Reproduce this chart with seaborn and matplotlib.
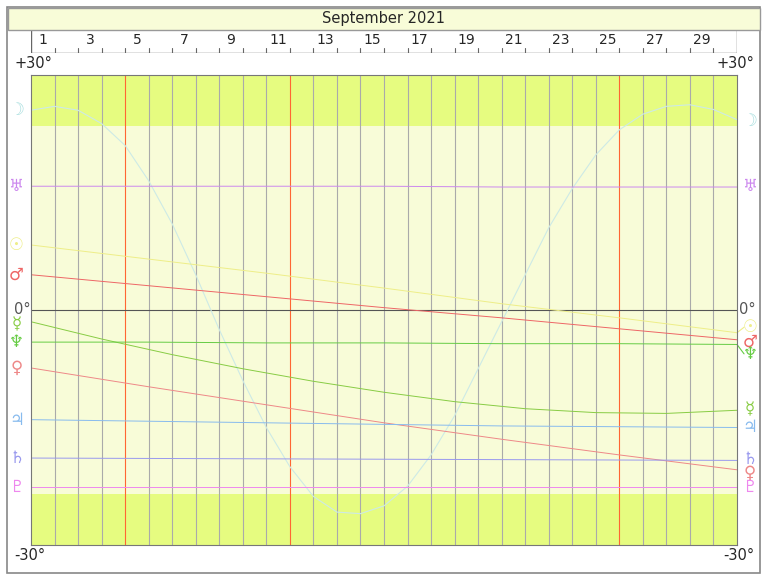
import numpy as np
import pandas as pd
import matplotlib
matplotlib.use("Agg")
import matplotlib.pyplot as plt
from matplotlib.patches import Rectangle
import seaborn as sns

sns.set_style("white")
plt.rcParams["font.family"] = ["DejaVu Sans"]

TITLE = "September 2021"
N_DAYS = 30
RED_DAYS = [4, 11, 25]          # day-start offsets of the red markers

t_moon = list(range(31))
moon = [25.5, 26.0, 25.5, 23.8, 21.0, 16.5, 11.0, 4.5, -2.5, -9.0, -15.0,
        -20.0, -23.8, -25.8, -26.0, -25.0, -22.5, -18.5, -13.5, -7.5, -1.5,
        4.5, 10.5, 15.5, 19.8, 23.0, 25.0, 26.0, 26.2, 25.6, 24.3]
t_slow = [0, 5, 10, 15, 20, 25, 30]
t_merc = [0, 3, 6, 9, 12, 15, 18, 21, 24, 27, 30]
mercury = [-1.5, -3.7, -5.7, -7.5, -9.1, -10.5, -11.7, -12.6, -13.1, -13.2, -12.8]
planets = {
    "Uranus":  ("\u2645", "#cc88ee", t_slow, [15.8, 15.8, 15.8, 15.8, 15.7, 15.7, 15.7]),
    "Sun":     ("\u2609", "#eeee88", t_slow, [8.3, 6.5, 4.7, 2.8, 0.8, -1.0, -2.9]),
    "Mars":    ("\u2642", "#ee6666", t_slow, [4.5, 3.1, 1.7, 0.3, -1.0, -2.4, -3.8]),
    "Mercury": ("\u263f", "#88cc44", t_merc, mercury),
    "Neptune": ("\u2646", "#66cc44", t_slow, [-4.1, -4.1, -4.2, -4.2, -4.3, -4.3, -4.4]),
    "Venus":   ("\u2640", "#ee8888", t_slow, [-7.4, -9.8, -12.1, -14.4, -16.5, -18.5, -20.4]),
    "Jupiter": ("\u2643", "#88bbee", t_slow, [-14.0, -14.2, -14.4, -14.6, -14.8, -14.9, -15.0]),
    "Saturn":  ("\u2644", "#9999ee", t_slow, [-18.9, -18.95, -19.0, -19.05, -19.1, -19.15, -19.2]),
    "Pluto":   ("\u2647", "#ee88ee", t_slow, [-22.6, -22.6, -22.6, -22.6, -22.6, -22.6, -22.6]),
}
# label positions (degrees) on the left and right edges
left_lab = {"Moon": 25.5, "Uranus": 15.8, "Sun": 8.3, "Mars": 4.5, "Mercury": -1.8,
            "Neptune": -4.1, "Venus": -7.4, "Jupiter": -14.0, "Saturn": -18.9, "Pluto": -22.6}
right_lab = {"Moon": 24.1, "Uranus": 15.8, "Sun": -2.2, "Mars": -4.0, "Neptune": -5.6,
             "Mercury": -12.7, "Jupiter": -15.0, "Saturn": -19.0, "Venus": -20.8, "Pluto": -22.6}

W, H = 768, 580
fig = plt.figure(figsize=(W / 100, H / 100), dpi=100)


def fx(px):
    return px / W


def fy(py):
    return 1 - py / H


# outer frame and title bar
fig.patches.append(Rectangle((fx(7), fy(573)), fx(753), 566 / H, transform=fig.transFigure,
                             fill=False, ec="#888888", lw=1.2))
fig.patches.append(Rectangle((fx(8), fy(30)), fx(752), 22 / H, transform=fig.transFigure,
                             fc="#f8fcd8", ec="#999999", lw=1))
fig.text(fx(384), fy(19), TITLE, ha="center", va="center", fontsize=10.5)

# header day scale
axt = fig.add_axes([fx(31), fy(53), fx(706), 23 / H])
axt.set_xlim(0, N_DAYS)
axt.set_ylim(0, 1)
axt.axis("off")
axt.plot([0, N_DAYS], [0, 0], color="#666666", lw=1)
axt.plot([0, 0], [0, 1], color="#666666", lw=1)
axt.plot([N_DAYS, N_DAYS], [0, 1], color="#666666", lw=1)
for d in range(1, N_DAYS):
    axt.plot([d, d], [0, 0.22], color="#666666", lw=0.8)
for d in range(1, N_DAYS + 1, 2):
    axt.text(d - 0.5, 0.55, str(d), ha="center", va="center", fontsize=10)

# main plot
ax = fig.add_axes([fx(31), fy(545), fx(706), 470 / H])
ax.set_facecolor("#f8fcd8")
ax.set_xlim(0, N_DAYS)
ax.set_ylim(-30, 30)
ax.axhspan(23.44, 30, color="#e6fc80", lw=0)
ax.axhspan(-30, -23.44, color="#e6fc80", lw=0)
for d in range(1, N_DAYS):
    ax.axvline(d, color="#ff6633" if d in RED_DAYS else "#aaaaaa", lw=0.8)
ax.axhline(0, color="#555555", lw=0.8)

sns.lineplot(x=t_moon, y=moon, ax=ax, color="#cdeae6", lw=0.8)
for name, (sym, col, ts, vals) in planets.items():
    sns.lineplot(x=ts, y=vals, ax=ax, color=col, lw=0.7)
ax.set_xticks([])
ax.set_yticks([])
for s in ax.spines.values():
    s.set_color("#777777")

# degree labels
fig.text(fx(14), fy(63), "+30\u00b0", ha="left", va="center", fontsize=10.5)
fig.text(fx(754), fy(63), "+30\u00b0", ha="right", va="center", fontsize=10.5)
fig.text(fx(14), fy(555), "-30\u00b0", ha="left", va="center", fontsize=10.5)
fig.text(fx(754), fy(555), "-30\u00b0", ha="right", va="center", fontsize=10.5)
fig.text(fx(14), fy(310), "0\u00b0", ha="left", va="center", fontsize=10.5, color="#555555")
fig.text(fx(756), fy(310), "0\u00b0", ha="right", va="center", fontsize=10.5, color="#555555")

allp = dict(planets)
allp["Moon"] = ("\u263d", "#a8dede", t_moon, moon)
for name, (sym, col, ts, vals) in allp.items():
    ax.text(-0.62, left_lab[name], sym, ha="center", va="center", fontsize=12,
            color=col, clip_on=False)
    ax.text(N_DAYS + 0.55, right_lab[name], sym, ha="center", va="center", fontsize=12,
            color=col, clip_on=False)
    if abs(right_lab[name] - vals[-1]) > 0.5:
        ax.plot([N_DAYS, N_DAYS + 0.3], [vals[-1], right_lab[name]], color=col,
                lw=0.8, clip_on=False)

fig.savefig("out.png", dpi=100)
